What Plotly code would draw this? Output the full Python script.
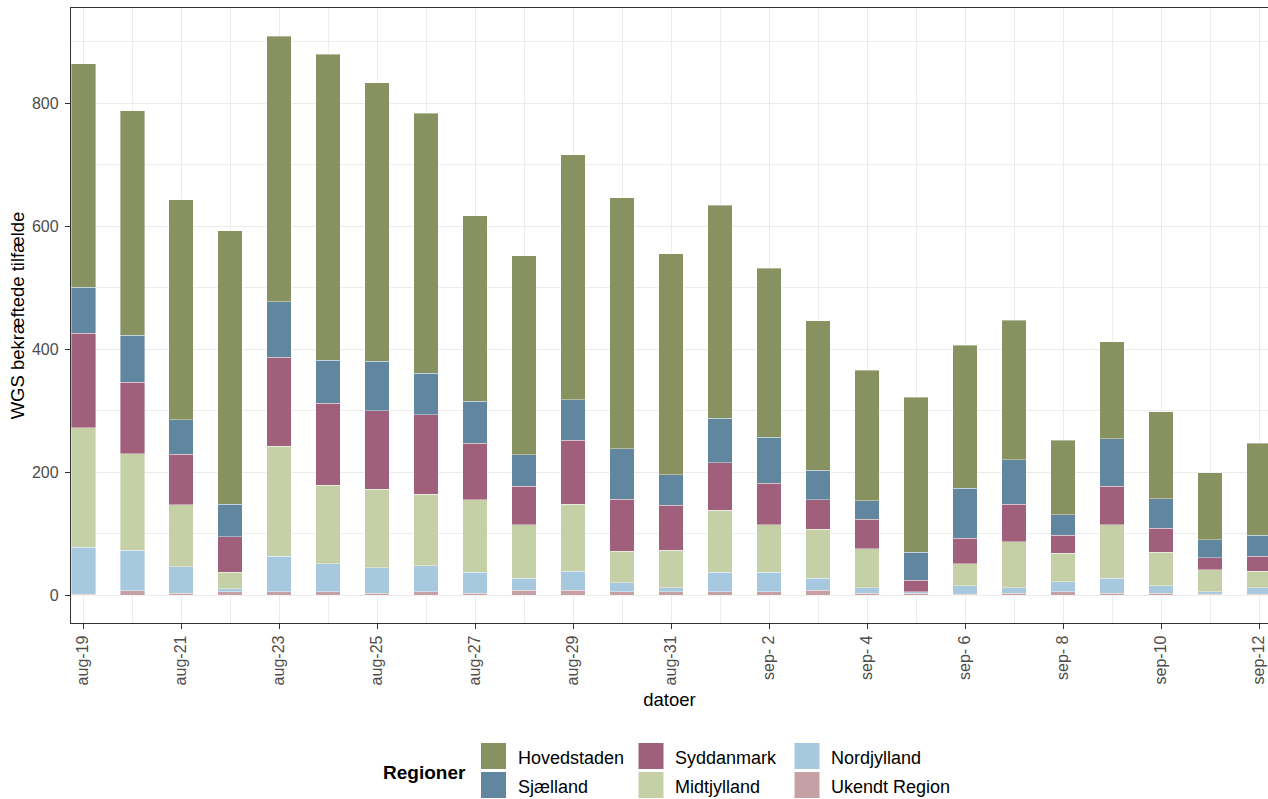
import pandas as pd
import plotly.graph_objects as go

# ---- data -------------------------------------------------------------
dates = ["2021-08-19", "2021-08-20", "2021-08-21", "2021-08-22", "2021-08-23",
         "2021-08-24", "2021-08-25", "2021-08-26", "2021-08-27", "2021-08-28",
         "2021-08-29", "2021-08-30", "2021-08-31", "2021-09-01", "2021-09-02",
         "2021-09-03", "2021-09-04", "2021-09-05", "2021-09-06", "2021-09-07",
         "2021-09-08", "2021-09-09", "2021-09-10", "2021-09-11", "2021-09-12"]

ukendt_region = [1, 7, 3, 5, 5, 5, 3, 5, 3, 8, 8, 5, 5, 5, 5, 8, 3, 3, 1, 3, 5, 3, 3, 1, 1]
nordjylland   = [77, 66, 43, 5, 58, 46, 41, 43, 34, 19, 31, 15, 7, 32, 32, 19, 9, 2, 14, 9, 17, 24, 12, 4, 11]
midtjylland   = [194, 157, 101, 27, 179, 128, 128, 116, 118, 87, 109, 51, 61, 101, 77, 80, 63, 0, 36, 75, 46, 87, 55, 36, 27]
syddanmark    = [154, 116, 82, 58, 145, 133, 128, 129, 92, 63, 104, 85, 73, 77, 68, 48, 48, 19, 41, 61, 29, 63, 39, 20, 24]
sjaelland     = [75, 77, 56, 53, 90, 70, 80, 68, 68, 51, 66, 82, 50, 73, 75, 48, 30, 46, 82, 72, 34, 77, 48, 29, 34]
hovedstaden   = [363, 365, 358, 445, 432, 498, 453, 423, 302, 324, 398, 408, 359, 346, 275, 243, 213, 252, 232, 227, 121, 158, 141, 109, 150]

tick_dates  = dates[::2]
tick_labels = ["aug-19", "aug-21", "aug-23", "aug-25", "aug-27", "aug-29", "aug-31",
               "sep- 2", "sep- 4", "sep- 6", "sep- 8", "sep-10", "sep-12"]
y_ticks = [0, 200, 400, 600, 800]

# stacking order (bottom -> top)
series = [
    ("Ukendt Region", ukendt_region, "#C5A0A4"),
    ("Nordjylland",   nordjylland,   "#A6C9E0"),
    ("Midtjylland",   midtjylland,   "#C5D0A6"),
    ("Syddanmark",    syddanmark,    "#A0607C"),
    ("Sjælland",      sjaelland,     "#61869F"),
    ("Hovedstaden",   hovedstaden,   "#879260"),
]
# legend layout (column-major, 3 columns x 2 rows)
legend_order = ["Hovedstaden", "Sjælland", "Syddanmark", "Midtjylland", "Nordjylland", "Ukendt Region"]

# ---- figure -----------------------------------------------------------
W, H = 1268, 799
ML, MR, MT, MB = 71, 0, 8, 176
PW, PH = W - ML - MR, H - MT - MB

fig = go.Figure()
day_ms = 86400000
for name, vals, col in series:
    fig.add_trace(go.Bar(
        x=dates, y=vals, name=name, width=0.5 * day_ms,
        marker=dict(color=col, line=dict(color="rgba(255,255,255,0.55)", width=0.7)),
        showlegend=False,
    ))

x0 = pd.Timestamp(dates[0])
xr = [(x0 - pd.Timedelta(hours=6)).isoformat(), (x0 + pd.Timedelta(days=24.18)).isoformat()]

FAM = "Liberation Sans, Arial, sans-serif"
axis_font = dict(family=FAM, size=16, color="#4D4D4D")
title_font = dict(family=FAM, size=18.5, color="#000000")

fig.update_layout(
    width=W, height=H,
    margin=dict(l=ML, r=MR, t=MT, b=MB, autoexpand=False),
    paper_bgcolor="white", plot_bgcolor="white",
    barmode="stack",
    showlegend=False,
    font=dict(family=FAM),
    xaxis=dict(
        type="date", range=xr,
        tickmode="array", tickvals=tick_dates, ticktext=tick_labels,
        tickangle=-90, tickfont=axis_font,
        ticks="outside", ticklen=5, tickwidth=1.1, tickcolor="#333333",
        showline=True, linecolor="#333333", linewidth=1.3, mirror=True,
        showgrid=True, gridcolor="#EBEBEB", gridwidth=1.2,
        minor=dict(tick0=dates[0], dtick=day_ms, showgrid=True, gridcolor="#EDEDED", gridwidth=1.0, ticks=""),
        zeroline=False,
        title=dict(text="datoer", font=title_font, standoff=8),
        automargin=False,
    ),
    yaxis=dict(
        range=[-45.5, 955],
        tickmode="array", tickvals=y_ticks,
        tickfont=axis_font,
        ticks="outside", ticklen=5, tickwidth=1.1, tickcolor="#333333",
        ticklabelstandoff=3,
        showline=True, linecolor="#333333", linewidth=1.3,
        showgrid=True, gridcolor="#EBEBEB", gridwidth=1.2,
        minor=dict(dtick=100, tick0=0, showgrid=True, gridcolor="#EDEDED", gridwidth=1.0, ticks=""),
        zeroline=False,
        title=dict(text="WGS bekræftede tilfælde", font=title_font, standoff=2),
        automargin=False,
    ),
)

# ---- legend (drawn below plot, ggplot-style keys) ----------------------
def px_to_paper_x(px):
    return (px - ML) / PW

def px_to_paper_y(py):
    return (H - MB - py) / PH

colors = {n: c for n, _, c in series}
col_x = [493.5, 651, 807]     # key centres (px)
row_y = [756, 785]            # key centres (px)
for i, name in enumerate(legend_order):
    cx, cy = col_x[i // 2], row_y[i % 2]
    fig.add_shape(
        type="rect", xref="paper", yref="paper",
        xsizemode="pixel", ysizemode="pixel",
        xanchor=px_to_paper_x(cx), yanchor=px_to_paper_y(cy),
        x0=-12.5, x1=12.5, y0=-13, y1=13,
        fillcolor=colors[name], line=dict(width=0),
    )
    fig.add_annotation(
        xref="paper", yref="paper",
        x=px_to_paper_x(cx + 22), y=px_to_paper_y(cy + 1.5),
        xanchor="left", yanchor="middle", showarrow=False,
        text=name, font=dict(family=FAM, size=18, color="#000000"),
    )
fig.add_annotation(
    xref="paper", yref="paper",
    x=px_to_paper_x(468), y=px_to_paper_y(772),
    xanchor="right", yanchor="middle", showarrow=False,
    text="<b>Regioner</b>", font=dict(family=FAM, size=19, color="#000000"),
)

fig.write_html(
    "out.html",
    config={"displayModeBar": False},
    post_script="document.body.style.margin='0';document.body.style.overflow='hidden';",
)
